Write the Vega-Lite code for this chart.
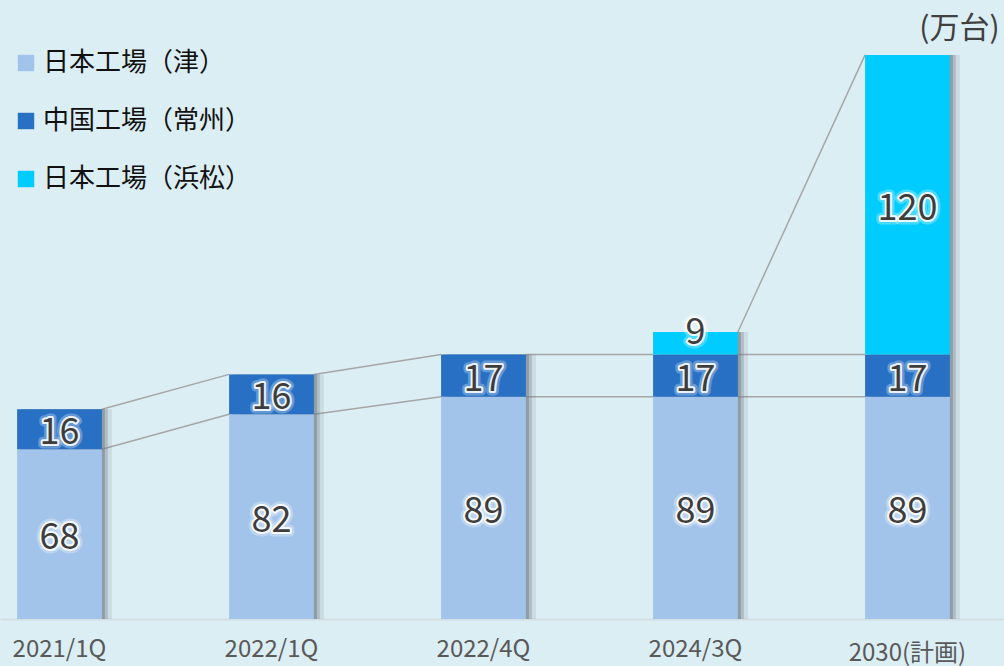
{
  "$schema": "https://vega.github.io/schema/vega-lite/v6.json",
  "autosize": "none",
  "width": 1004,
  "height": 619,
  "padding": {"left": 0, "top": 0, "right": 0, "bottom": 47},
  "background": "#dbeef4",
  "config": {"view": {"stroke": null}, "font": "Noto Sans CJK JP"},
  "datasets": {
    "bars": [
      {"cat": "2021/1Q", "series": "日本工場（津）", "ord": 1, "value": 68},
      {"cat": "2021/1Q", "series": "中国工場（常州）", "ord": 2, "value": 16},
      {"cat": "2022/1Q", "series": "日本工場（津）", "ord": 1, "value": 82},
      {"cat": "2022/1Q", "series": "中国工場（常州）", "ord": 2, "value": 16},
      {"cat": "2022/4Q", "series": "日本工場（津）", "ord": 1, "value": 89},
      {"cat": "2022/4Q", "series": "中国工場（常州）", "ord": 2, "value": 17},
      {"cat": "2024/3Q", "series": "日本工場（津）", "ord": 1, "value": 89},
      {"cat": "2024/3Q", "series": "中国工場（常州）", "ord": 2, "value": 17},
      {"cat": "2024/3Q", "series": "日本工場（浜松）", "ord": 3, "value": 9},
      {"cat": "2030(計画)", "series": "日本工場（津）", "ord": 1, "value": 89},
      {"cat": "2030(計画)", "series": "中国工場（常州）", "ord": 2, "value": 17},
      {"cat": "2030(計画)", "series": "日本工場（浜松）", "ord": 3, "value": 120}
    ],
    "links": [
      {"from": "2021/1Q", "to": "2022/1Q", "y1": 68, "y2": 82},
      {"from": "2021/1Q", "to": "2022/1Q", "y1": 84, "y2": 98},
      {"from": "2022/1Q", "to": "2022/4Q", "y1": 82, "y2": 89},
      {"from": "2022/1Q", "to": "2022/4Q", "y1": 98, "y2": 106},
      {"from": "2022/4Q", "to": "2024/3Q", "y1": 89, "y2": 89},
      {"from": "2022/4Q", "to": "2024/3Q", "y1": 106, "y2": 106},
      {"from": "2024/3Q", "to": "2030(計画)", "y1": 89, "y2": 89},
      {"from": "2024/3Q", "to": "2030(計画)", "y1": 106, "y2": 106},
      {"from": "2024/3Q", "to": "2030(計画)", "y1": 115, "y2": 226}
    ]
  },
  "layer": [
    {
      "data": {"name": "links"},
      "mark": {"type": "rule", "color": "#a6a6a6", "strokeWidth": 1.5, "xOffset": 42.4, "x2Offset": -42.4},
      "encoding": {
        "x": {"field": "from", "type": "nominal"},
        "x2": {"field": "to"},
        "y": {"field": "y1", "type": "quantitative"},
        "y2": {"field": "y2"}
      }
    },
    {
      "data": {"name": "bars"},
      "mark": {"type": "bar", "color": "#6f7c84", "opacity": 0.15, "xOffset": 10},
      "encoding": {
        "x": {"field": "cat", "type": "nominal"},
        "y": {"field": "value", "type": "quantitative", "stack": "zero"},
        "order": {"field": "ord"},
        "detail": {"field": "series"}
      }
    },
    {
      "data": {"name": "bars"},
      "mark": {"type": "bar", "color": "#6f7c84", "opacity": 0.3, "xOffset": 6},
      "encoding": {
        "x": {"field": "cat", "type": "nominal"},
        "y": {"field": "value", "type": "quantitative", "stack": "zero"},
        "order": {"field": "ord"},
        "detail": {"field": "series"}
      }
    },
    {
      "data": {"name": "bars"},
      "mark": {"type": "bar", "color": "#6f7c84", "opacity": 0.5, "xOffset": 3},
      "encoding": {
        "x": {"field": "cat", "type": "nominal"},
        "y": {"field": "value", "type": "quantitative", "stack": "zero"},
        "order": {"field": "ord"},
        "detail": {"field": "series"}
      }
    },
    {
      "data": {"name": "bars"},
      "mark": {"type": "bar"},
      "encoding": {
        "x": {
          "field": "cat", "type": "nominal",
          "scale": {"domain": ["2021/1Q", "2022/1Q", "2022/4Q", "2024/3Q", "2030(計画)"], "paddingInner": 0.6, "paddingOuter": 0.168, "align": 0.24},
          "axis": {
            "title": null, "labelAngle": 0, "ticks": false, "bandPosition": 0.5,
            "labelAlign": "center",
            "domainColor": "#d4dde1", "domainWidth": 2,
            "labelFontSize": 24, "labelColor": "#595959", "labelFont": "Noto Sans CJK JP",
            "labelPadding": {"condition": {"test": "datum.value === '2030(計画)'", "value": 34}, "value": 30}
          }
        },
        "y": {
          "field": "value", "type": "quantitative", "stack": "zero",
          "scale": {"domain": [0, 248], "nice": false},
          "axis": {
            "orient": "right", "title": "(万台)", "titleAngle": 0, "titleX": -45, "titleY": 28,
            "titleAlign": "center", "titleBaseline": "middle", "titleFontSize": 30,
            "titleFontWeight": "normal", "titleColor": "#404040", "titleFont": "Noto Sans CJK JP",
            "labels": false, "ticks": false, "domain": false, "grid": false
          }
        },
        "order": {"field": "ord"},
        "color": {
          "field": "series", "type": "nominal",
          "scale": {"domain": ["日本工場（津）", "中国工場（常州）", "日本工場（浜松）"], "range": ["#a2c4ea", "#2870c4", "#00ccff"]},
          "legend": {
            "title": null, "orient": "none", "legendX": 13, "legendY": 50,
            "symbolType": "square", "symbolSize": 270, "symbolStrokeWidth": 0,
            "labelFontSize": 26, "labelColor": "#111111", "labelFont": "Noto Sans CJK JP",
            "labelOffset": 4, "labelLimit": 0, "rowPadding": 32, "symbolOffset": 0
          }
        }
      }
    },
    {
      "data": {"name": "bars"},
      "transform": [
        {"stack": "value", "groupby": ["cat"], "sort": [{"field": "ord"}], "as": ["v0", "v1"]},
        {"calculate": "datum.value < 12 ? datum.v1 + 1 : (datum.v0 + datum.v1) / 2", "as": "mid"}
      ],
      "layer": [
        {
          "mark": {"type": "text", "fontSize": 36, "font": "Noto Sans CJK JP", "stroke": "#ffffff", "strokeWidth": 9, "strokeOpacity": 0.3, "strokeJoin": "round", "fill": "#ffffff", "baseline": "middle", "dy": 4},
          "encoding": {
            "x": {"field": "cat", "type": "nominal"},
            "y": {"field": "mid", "type": "quantitative"},
            "text": {"field": "value", "type": "quantitative"}
          }
        },
        {
          "mark": {"type": "text", "fontSize": 36, "font": "Noto Sans CJK JP", "stroke": "#ffffff", "strokeWidth": 4, "strokeOpacity": 0.9, "strokeJoin": "round", "fill": "#ffffff", "baseline": "middle", "dy": 4},
          "encoding": {
            "x": {"field": "cat", "type": "nominal"},
            "y": {"field": "mid", "type": "quantitative"},
            "text": {"field": "value", "type": "quantitative"}
          }
        },
        {
          "mark": {"type": "text", "fontSize": 36, "font": "Noto Sans CJK JP", "fill": "#3d3d3d", "baseline": "middle", "dy": 4},
          "encoding": {
            "x": {"field": "cat", "type": "nominal"},
            "y": {"field": "mid", "type": "quantitative"},
            "text": {"field": "value", "type": "quantitative"}
          }
        }
      ]
    }
  ]
}
